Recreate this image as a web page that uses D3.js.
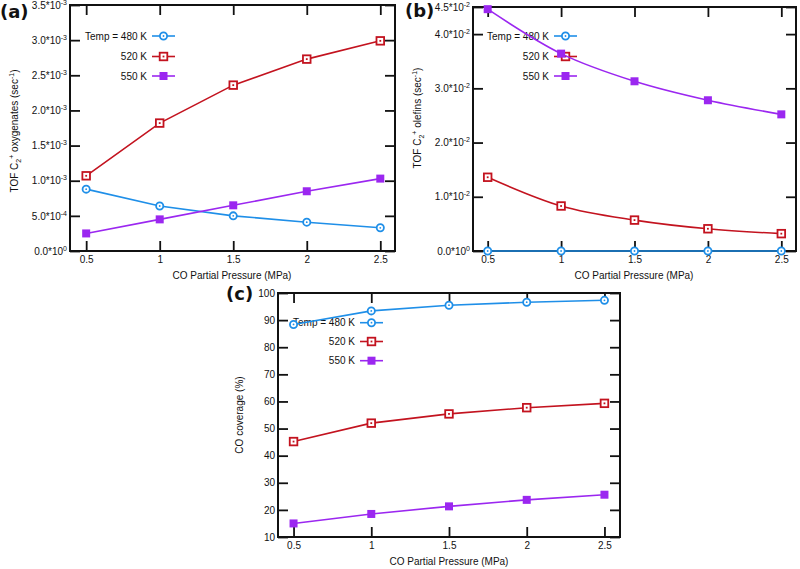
<!DOCTYPE html>
<html>
<head>
<meta charset="utf-8">
<script src="https://cdn.jsdelivr.net/npm/d3@7"></script>
<style>
  html, body { margin: 0; padding: 0; background: #fff; }
  svg { display: block; }
</style>
</head>
<body>
<svg id="chart" width="800" height="569" font-family="'Liberation Sans', Arial, Helvetica, sans-serif"></svg>
<script>
// ---------------- data ----------------
const pressures = [0.5, 1, 1.5, 2, 2.5];
const seriesNames = ["Temp = 480 K", "520 K", "550 K"];

// (a) TOF C2+ oxygenates (sec^-1)
const oxy480 = [0.88e-3, 0.64e-3, 0.50e-3, 0.41e-3, 0.33e-3];
const oxy520 = [1.07e-3, 1.82e-3, 2.36e-3, 2.73e-3, 2.99e-3];
const oxy550 = [0.25e-3, 0.45e-3, 0.65e-3, 0.85e-3, 1.03e-3];

// (b) TOF C2+ olefins (sec^-1)
const ole480 = [0, 0, 0, 0, 0];
const ole520 = [1.36e-2, 0.83e-2, 0.57e-2, 0.41e-2, 0.32e-2];
const ole550 = [4.46e-2, 3.64e-2, 3.13e-2, 2.78e-2, 2.52e-2];

// (c) CO coverage (%)
const cov480 = [88.4, 93.4, 95.5, 96.6, 97.3];
const cov520 = [45.2, 52.0, 55.4, 57.7, 59.3];
const cov550 = [15.0, 18.5, 21.3, 23.7, 25.6];

// ticks
const xTicks = [0.5, 1, 1.5, 2, 2.5];
const xTickLabels = ["0.5", "1", "1.5", "2", "2.5"];
const oxyTicks = [0, 0.5e-3, 1.0e-3, 1.5e-3, 2.0e-3, 2.5e-3, 3.0e-3, 3.5e-3];
const oxyTickLabels = ["0.0*10^0", "5.0*10^-4", "1.0*10^-3", "1.5*10^-3", "2.0*10^-3", "2.5*10^-3", "3.0*10^-3", "3.5*10^-3"];
const oleTicks = [0, 1e-2, 2e-2, 3e-2, 4e-2, 4.5e-2];
const oleTickLabels = ["0.0*10^0", "1.0*10^-2", "2.0*10^-2", "3.0*10^-2", "4.0*10^-2", "4.5*10^-2"];
const covTicks = [10, 20, 30, 40, 50, 60, 70, 80, 90, 100];
const covTickLabels = ["10", "20", "30", "40", "50", "60", "70", "80", "90", "100"];

const colors = ["#1f8fe8", "#c3131f", "#9b27f0"];
const markers = ["circle", "openSquare", "filledSquare"];

// ---------------- drawing ----------------
const svg = d3.select("#chart");
const FONT = "'Liberation Sans', Arial, Helvetica, sans-serif";

function setTickText(sel, labels) {
  sel.each(function(d, i) {
    const t = d3.select(this);
    const s = labels[i];
    t.text(null);
    const parts = s.split("^");
    t.append("tspan").text(parts[0]);
    if (parts.length > 1) {
      t.append("tspan").attr("dy", "-4").style("font-size", "7px").text(parts[1]);
    }
  });
}

function drawMarker(g, type, x, y, color) {
  if (type === "circle") {
    g.append("circle").attr("cx", x).attr("cy", y).attr("r", 3.6)
      .attr("fill", "#fff").attr("stroke", color).attr("stroke-width", 1.8);
    g.append("circle").attr("cx", x).attr("cy", y).attr("r", 0.9).attr("fill", color);
  } else if (type === "openSquare") {
    g.append("rect").attr("x", x - 3.8).attr("y", y - 3.8).attr("width", 7.6).attr("height", 7.6)
      .attr("fill", "#fff").attr("stroke", color).attr("stroke-width", 1.8);
    g.append("rect").attr("x", x - 0.9).attr("y", y - 0.9).attr("width", 1.8).attr("height", 1.8).attr("fill", color);
  } else {
    g.append("rect").attr("x", x - 4).attr("y", y - 4).attr("width", 8).attr("height", 8).attr("fill", color);
  }
}

function drawPanel(cfg) {
  const g = svg.append("g");
  const x = d3.scaleLinear().domain(cfg.xDomain).range(cfg.xRange);
  const y = d3.scaleLinear().domain(cfg.yDomain).range(cfg.yRange);
  const [x0, x1] = cfg.xRange;
  const [y0, y1] = cfg.yRange; // y0 bottom, y1 top

  // axes (inward ticks)
  const bottom = g.append("g").attr("transform", `translate(0,${y0})`)
    .call(d3.axisBottom(x).tickValues(xTicks).tickSizeInner(-10).tickSizeOuter(0).tickPadding(5));
  setTickText(bottom.selectAll(".tick text"), xTickLabels);
  g.append("g").attr("transform", `translate(0,${y1})`)
    .call(d3.axisTop(x).tickValues(xTicks).tickSizeInner(-10).tickSizeOuter(0).tickFormat(""));
  const left = g.append("g").attr("transform", `translate(${x0},0)`)
    .call(d3.axisLeft(y).tickValues(cfg.yTicks).tickSizeInner(-10).tickSizeOuter(0).tickPadding(3));
  setTickText(left.selectAll(".tick text"), cfg.yTickLabels);
  g.append("g").attr("transform", `translate(${x1},0)`)
    .call(d3.axisRight(y).tickValues(cfg.yTicks).tickSizeInner(-10).tickSizeOuter(0).tickFormat(""));

  g.selectAll(".domain").remove();
  g.selectAll("g").attr("font-family", null).attr("font-size", null);
  g.selectAll(".tick line").attr("stroke", "#111").attr("stroke-width", 1.8);
  g.selectAll(".tick text").style("font-size", "10px").attr("fill", "#111").style("font-family", FONT);

  // frame
  g.append("rect").attr("x", x0).attr("y", y1).attr("width", x1 - x0).attr("height", y0 - y1)
    .attr("fill", "none").attr("stroke", "#111").attr("stroke-width", 2);

  // axis titles
  g.append("text").attr("x", cfg.xTitlePos[0]).attr("y", cfg.xTitlePos[1])
    .attr("text-anchor", "middle").style("font-size", "10px").style("font-family", FONT).attr("fill", "#111")
    .text("CO Partial Pressure (MPa)");
  const yt = g.append("text").attr("transform", `translate(${cfg.yTitlePos[0]},${cfg.yTitlePos[1]}) rotate(-90)`)
    .attr("text-anchor", "middle").style("font-size", "10px").style("font-family", FONT).attr("fill", "#111");
  cfg.yTitle.forEach(p => {
    const ts = yt.append("tspan").text(p.t);
    if (p.small) ts.style("font-size", "7px");
    if (p.dy) ts.attr("dy", p.dy);
  });

  // panel label
  svg.append("text").attr("x", cfg.labelPos[0]).attr("y", cfg.labelPos[1])
    .style("font-family", "'DejaVu Sans', sans-serif").style("font-weight", "bold")
    .style("font-size", "18px").attr("fill", "#111").text(cfg.label);

  // legend (drawn beneath data)
  const lg = g.append("g");
  seriesNames.forEach((name, i) => {
    const ly = cfg.legend.y[i];
    lg.append("text").attr("x", cfg.legend.x).attr("y", ly + 3.5)
      .attr("text-anchor", "end").style("font-size", "10px").style("font-family", FONT).attr("fill", "#111").text(name);
    lg.append("line").attr("x1", cfg.legend.x + 5).attr("x2", cfg.legend.x + 28)
      .attr("y1", ly).attr("y2", ly).attr("stroke", colors[i]).attr("stroke-width", 1.6);
    drawMarker(lg, markers[i], cfg.legend.x + 16.5, ly, colors[i]);
  });

  // data
  const line = d3.line().x((d, i) => x(pressures[i])).y(d => y(d)).curve(cfg.curve);
  cfg.series.forEach((vals, si) => {
    g.append("path").datum(vals).attr("d", line)
      .attr("fill", "none").attr("stroke", colors[si]).attr("stroke-width", 1.6);
  });
  cfg.series.forEach((vals, si) => {
    const mg = g.append("g");
    vals.forEach((v, i) => drawMarker(mg, markers[si], x(pressures[i]), y(v), colors[si]));
  });
}

const tofTitle = (word) => [
  {t: "TOF C"}, {t: "2", small: true, dy: 3}, {t: "+", small: true, dy: -7},
  {t: " " + word + " (sec", dy: 4}, {t: "-1", small: true, dy: -4}, {t: ")", dy: 4}
];

drawPanel({
  label: "(a)", labelPos: [0, 18],
  xDomain: [0.39, 2.6], xRange: [70, 395],
  yDomain: [0, 3.5e-3], yRange: [251, 5],
  yTicks: oxyTicks, yTickLabels: oxyTickLabels,
  series: [oxy480, oxy520, oxy550],
  curve: d3.curveLinear,
  xTitlePos: [232, 279],
  yTitlePos: [18, 131],
  yTitle: tofTitle("oxygenates"),
  legend: {x: 147, y: [36, 56.5, 76]}
});

drawPanel({
  label: "(b)", labelPos: [405, 17],
  xDomain: [0.4, 2.6], xRange: [473, 796],
  yDomain: [0, 4.5e-2], yRange: [251, 7],
  yTicks: oleTicks, yTickLabels: oleTickLabels,
  series: [ole480, ole520, ole550],
  curve: d3.curveMonotoneX,
  xTitlePos: [634, 279],
  yTitlePos: [421, 118],
  yTitle: tofTitle("olefins"),
  legend: {x: 549, y: [36, 56.5, 76]}
});

drawPanel({
  label: "(c)", labelPos: [226, 300],
  xDomain: [0.4, 2.6], xRange: [278, 620],
  yDomain: [10, 100], yRange: [537, 293],
  yTicks: covTicks, yTickLabels: covTickLabels,
  series: [cov480, cov520, cov550],
  curve: d3.curveLinear,
  xTitlePos: [449, 565],
  yTitlePos: [243, 415],
  yTitle: [{t: "CO coverage (%)"}],
  legend: {x: 355, y: [322.7, 341.5, 360.7]}
});
</script>
</body>
</html>
